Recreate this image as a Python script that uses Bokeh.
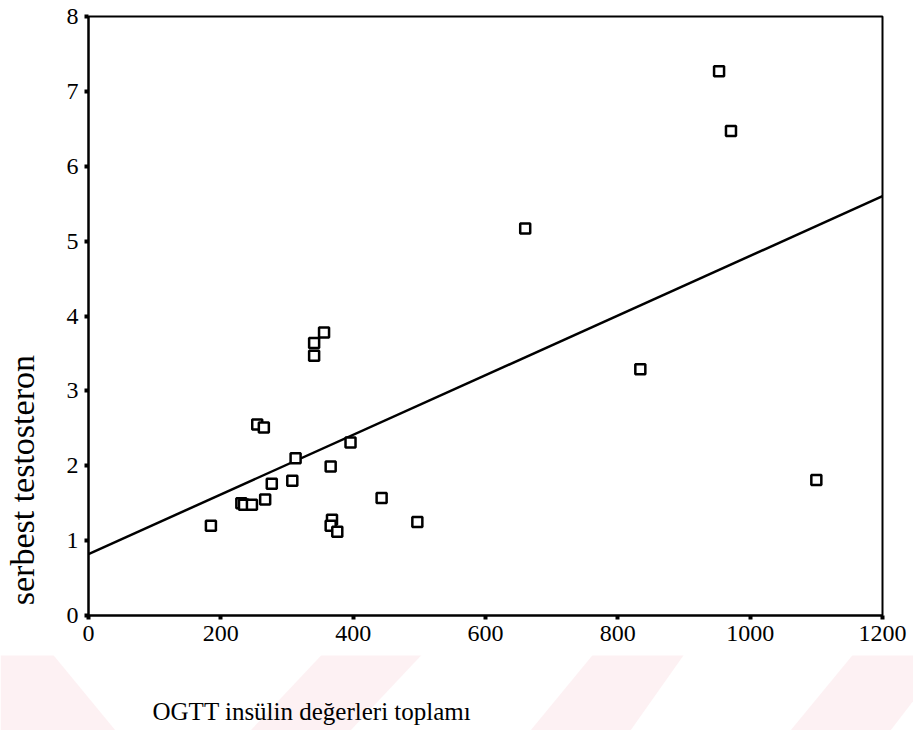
from math import pi
from bokeh.plotting import figure
from bokeh.layouts import column, row
from bokeh.models import FixedTicker, Range1d
from bokeh.core.properties import value
from bokeh.embed import file_html
from bokeh.resources import INLINE

# --- data ---
insulin_sum = [185, 231, 235, 247, 267, 277, 308, 313, 255, 265,
               356, 341, 341, 396, 366, 443, 368, 366, 376, 497,
               660, 953, 971, 834, 1100]
free_testosterone = [1.20, 1.50, 1.48, 1.48, 1.55, 1.76, 1.80, 2.10, 2.55, 2.51,
                     3.78, 3.64, 3.47, 2.31, 1.99, 1.57, 1.28, 1.20, 1.12, 1.25,
                     5.17, 7.27, 6.47, 3.29, 1.81]
fit_x = [0, 1200]
fit_y = [0.82, 5.60]
x_ticks = [0, 200, 400, 600, 800, 1000, 1200]
y_ticks = [0, 1, 2, 3, 4, 5, 6, 7, 8]
x_title = "OGTT insülin değerleri toplamı"
y_title = "serbest testosteron"

FONT = "Liberation Serif"
TOP_H = 655     # height of the chart row
LEFT_W = 50     # width of the y-title strip
BOT_H = 730 - TOP_H


def blank(width, height):
    f = figure(width=width, height=height, output_backend="svg", toolbar_location=None,
               x_range=Range1d(0, width), y_range=Range1d(0, height),
               x_axis_type=None, y_axis_type=None, min_border=0)
    f.outline_line_color = None
    f.grid.visible = False
    f.background_fill_color = "white"
    f.border_fill_color = "white"
    return f


# --- main chart ---
p = figure(width=913 - LEFT_W, height=TOP_H, output_backend="svg", toolbar_location=None,
           x_range=Range1d(0, 1200), y_range=Range1d(0, 8),
           min_border_left=88 - LEFT_W, min_border_right=31, min_border_top=16,
           min_border_bottom=TOP_H - 615)
p.background_fill_color = "white"
p.border_fill_color = "white"
p.outline_line_color = "black"
p.outline_line_width = 2
p.grid.visible = False

for ax, ticks in ((p.xaxis[0], x_ticks), (p.yaxis[0], y_ticks)):
    ax.ticker = FixedTicker(ticks=ticks)
    ax.axis_line_color = "black"
    ax.axis_line_width = 2
    ax.major_tick_line_color = "black"
    ax.major_tick_line_width = 4
    ax.major_tick_out = 4
    ax.major_tick_in = 0
    ax.minor_tick_line_color = None
    ax.major_label_text_font = FONT
    ax.major_label_text_font_size = "24px"
    ax.major_label_text_color = "black"
p.xaxis.major_label_standoff = 6
p.yaxis.major_label_standoff = 6

p.line(fit_x, fit_y, line_color="black", line_width=2.5)
p.scatter(insulin_sum, free_testosterone, marker="square", size=10,
          fill_color="white", line_color="black", line_width=2.5)

# --- y title strip ---
pl = blank(LEFT_W, TOP_H)
pl.text(x=[22], y=[TOP_H - 507], text=[y_title], angle=pi / 2,
        text_font=value(FONT), text_font_size="34px", text_color="black",
        text_align="center", text_baseline="middle")

# --- bottom strip: x title + faint pink watermark bands ---
pb = blank(913, BOT_H)
bands_x = [
    [0, 45, 115, 0],
    [250, 350, 430, 330],
    [530, 630, 690, 600],
    [790, 890, 913, 913, 860],
]
bands_y = [
    [650, 645, 730, 730],
    [730, 730, 645, 645],
    [730, 730, 645, 645],
    [730, 730, 700, 645, 645],
]
pb.patches(bands_x, [[730 - v for v in ys] for ys in bands_y],
           fill_color="#f9d6dc", fill_alpha=0.35, line_color=None)
pb.text(x=[152], y=[730 - 711], text=[x_title],
        text_font=value(FONT), text_font_size="25px", text_color="black",
        text_align="left", text_baseline="middle")

layout = column(row(pl, p), pb)
open("out.html", "w").write(file_html(layout, INLINE))
